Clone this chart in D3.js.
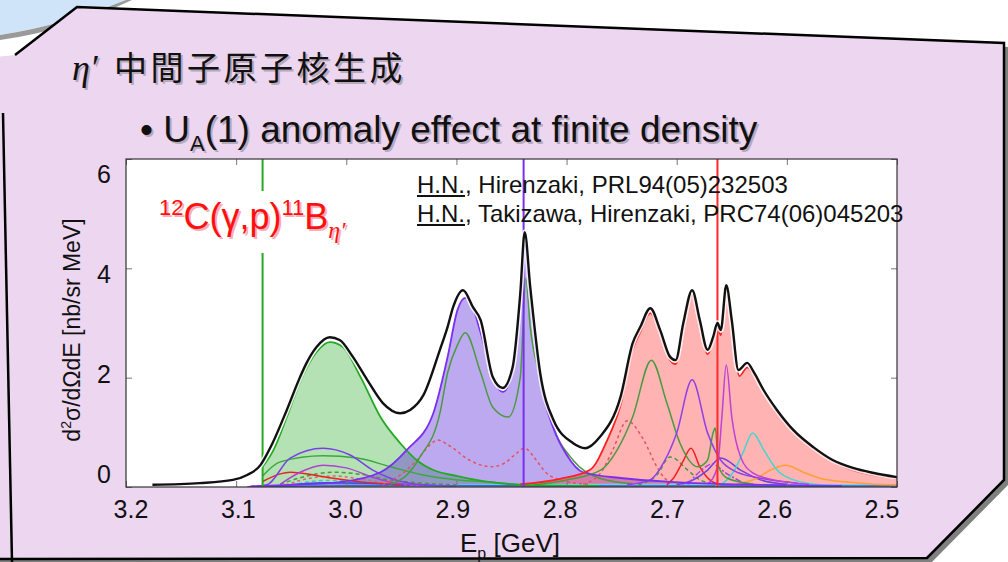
<!DOCTYPE html>
<html>
<head>
<meta charset="utf-8">
<script src="https://cdn.jsdelivr.net/npm/d3@7"></script>
<style>
body { margin: 0; background: #fff; }
svg { display: block; }
text { font-family: "Liberation Sans", Arial, sans-serif; }
</style>
</head>
<body>
<svg width="1008" height="562"></svg>
<script>
// ---- data (E_p in GeV, cross section in nb/sr MeV) ----
const xTicks = [3.2, 3.1, 3.0, 2.9, 2.8, 2.7, 2.6, 2.5];
const yTicks = [0, 2, 4, 6];
const thresholds = [3.076, 2.839, 2.663]; // green, purple, red lines

const totalCurve = [[3.176,0.04],[3.133,0.07],[3.103,0.13],[3.090,0.22],[3.078,0.40],[3.074,0.53],[3.067,0.80],[3.054,1.41],[3.042,2.01],[3.036,2.27],[3.027,2.56],[3.015,2.74],[3.006,2.69],[2.994,2.38],[2.981,1.96],[2.967,1.54],[2.951,1.35],[2.942,1.41],[2.930,1.68],[2.915,2.51],[2.908,2.93],[2.903,3.29],[2.894,3.60],[2.885,3.29],[2.878,3.05],[2.867,2.01],[2.858,1.81],[2.849,2.19],[2.842,3.55],[2.838,4.66],[2.833,3.66],[2.824,2.09],[2.812,1.23],[2.794,0.80],[2.783,0.71],[2.770,0.91],[2.751,1.65],[2.740,2.63],[2.733,2.93],[2.724,3.27],[2.715,2.87],[2.706,2.38],[2.701,2.32],[2.694,3.00],[2.686,3.60],[2.679,3.05],[2.672,2.51],[2.667,2.74],[2.663,3.00],[2.660,2.87],[2.655,3.69],[2.650,3.05],[2.644,2.14],[2.636,2.27],[2.630,2.10],[2.621,1.77],[2.609,1.41],[2.594,1.04],[2.576,0.73],[2.558,0.49],[2.540,0.35],[2.522,0.26],[2.500,0.18]];

const greenFill = [[3.0765,0],[3.076,0.37],[3.066,0.68],[3.054,1.28],[3.042,1.92],[3.027,2.47],[3.015,2.65],[3.003,2.56],[2.987,2.01],[2.969,1.28],[2.951,0.80],[2.936,0.49],[2.921,0.31],[2.899,0.20],[2.869,0.09],[2.842,0.04],[2.770,0.02]];

const purpleFill = [[3.087,0.01],[3.051,0.04],[3.006,0.09],[2.969,0.27],[2.945,0.68],[2.921,1.35],[2.908,2.38],[2.899,3.24],[2.892,3.46],[2.886,3.33],[2.878,2.82],[2.867,2.01],[2.858,1.74],[2.849,2.10],[2.842,3.42],[2.838,4.43],[2.833,3.42],[2.824,1.96],[2.812,1.08],[2.800,0.59],[2.785,0.27],[2.749,0.16],[2.703,0.09],[2.624,0.04],[2.55,0.02]];

const redFill = [[2.842,0.05],[2.806,0.15],[2.779,0.31],[2.763,0.86],[2.751,1.50],[2.740,2.51],[2.733,2.84],[2.724,3.18],[2.715,2.80],[2.706,2.32],[2.701,2.25],[2.694,2.93],[2.686,3.51],[2.679,2.96],[2.672,2.43],[2.667,2.67],[2.663,2.91],[2.660,2.78],[2.655,3.60],[2.650,2.96],[2.643,2.03],[2.636,2.19],[2.630,2.05],[2.621,1.74],[2.609,1.37],[2.594,1.01],[2.576,0.70],[2.558,0.46],[2.540,0.31],[2.522,0.22],[2.500,0.15]];

// component curves
const purpleA = [[3.090,0.00],[3.072,0.04],[3.051,0.53],[3.021,0.71],[2.997,0.59],[2.976,0.31],[2.960,0.16],[2.930,0.04],[2.90,0.02]];
const greenA = [[3.076,0.20],[3.060,0.46],[3.021,0.57],[2.990,0.53],[2.960,0.37],[2.930,0.22],[2.899,0.13],[2.869,0.09],[2.840,0.04]];
const magentaA = [[3.060,0.05],[3.042,0.27],[3.021,0.40],[3.000,0.35],[2.976,0.18],[2.960,0.09],[2.930,0.03]];
const redA = [[3.076,0.10],[3.060,0.24],[3.051,0.27],[3.030,0.22],[3.012,0.16],[2.980,0.08],[2.950,0.04]];
const greenDashA = [[3.060,0.05],[3.040,0.18],[3.012,0.27],[2.990,0.24],[2.960,0.13],[2.930,0.07],[2.900,0.04]];
const redDashA = [[3.055,0.04],[3.030,0.17],[3.010,0.20],[2.985,0.14],[2.960,0.06],[2.930,0.03]];
const cyanA = [[3.050,0.03],[3.020,0.12],[2.990,0.10],[2.960,0.04]];
const blueA = [[3.060,0.02],[3.020,0.08],[2.980,0.07],[2.940,0.03]];
const greenB = [[2.960,0.05],[2.945,0.22],[2.933,0.55],[2.915,1.35],[2.908,2.09],[2.899,2.60],[2.892,2.82],[2.878,2.09],[2.867,1.46],[2.853,1.28],[2.842,2.01],[2.837,3.82],[2.833,2.93],[2.824,2.01],[2.812,1.10],[2.794,0.49],[2.770,0.16],[2.740,0.06]];
const redDashB = [[2.967,0.04],[2.951,0.22],[2.936,0.49],[2.924,0.77],[2.917,0.86],[2.906,0.75],[2.888,0.49],[2.869,0.37],[2.856,0.44],[2.847,0.59],[2.838,0.71],[2.829,0.53],[2.819,0.27],[2.806,0.13],[2.780,0.05]];
const greenC = [[2.830,0.04],[2.800,0.13],[2.769,0.31],[2.754,0.68],[2.740,1.28],[2.723,2.32],[2.709,1.54],[2.697,0.80],[2.681,0.37],[2.672,0.49],[2.667,0.99],[2.665,1.08],[2.662,0.37],[2.654,0.16],[2.630,0.05]];
const purpleC = [[2.745,0.04],[2.724,0.13],[2.712,0.44],[2.700,0.99],[2.686,1.96],[2.672,0.99],[2.660,0.49],[2.649,0.31],[2.624,0.16],[2.590,0.07]];
const magentaC = [[2.672,0.05],[2.663,0.37],[2.659,1.28],[2.655,2.23],[2.650,1.28],[2.642,0.55],[2.631,0.26],[2.612,0.13],[2.580,0.05]];
const redC = [[2.709,0.04],[2.703,0.16],[2.695,0.44],[2.687,0.71],[2.679,0.37],[2.670,0.13],[2.660,0.04]];
const redDashC = [[2.785,0.05],[2.769,0.26],[2.758,0.68],[2.745,1.21],[2.730,0.86],[2.718,0.37],[2.709,0.13],[2.690,0.05]];
const greenDashC = [[2.735,0.04],[2.718,0.22],[2.706,0.55],[2.690,0.31],[2.679,0.13],[2.660,0.04]];
const purpleBroadC = [[2.700,0.04],[2.685,0.13],[2.672,0.31],[2.660,0.53],[2.642,0.31],[2.624,0.13],[2.600,0.05]];
const purpleDashC = [[2.690,0.05],[2.678,0.30],[2.668,0.42],[2.655,0.25],[2.640,0.08]];
const cyanC = [[2.665,0.02],[2.658,0.07],[2.649,0.26],[2.640,0.62],[2.631,0.99],[2.621,0.68],[2.609,0.31],[2.594,0.13],[2.570,0.04]];
const orangeC = [[2.645,0.05],[2.627,0.16],[2.615,0.31],[2.601,0.40],[2.585,0.27],[2.570,0.16],[2.545,0.09],[2.520,0.05],[2.500,0.04]];
const baseCyan = [[3.070,0.01],[2.900,0.04],[2.700,0.05],[2.500,0.03]];
const baseBlue = [[3.070,0.01],[2.950,0.03],[2.750,0.02],[2.500,0.02]];

// styles for the component lines (kept apart from the values)
const components = [
  { d: baseCyan, c: "#5fd8e0", dash: null },
  { d: baseBlue, c: "#4060e0", dash: null },
  { d: cyanA, c: "#40c8d8", dash: "4,3" },
  { d: blueA, c: "#3050e0", dash: null },
  { d: redDashA, c: "#e06080", dash: "3,3" },
  { d: greenDashA, c: "#4a9a3a", dash: "4,3" },
  { d: redA, c: "#ee2020", dash: null },
  { d: magentaA, c: "#b040d0", dash: null },
  { d: greenA, c: "#3aa83a", dash: null },
  { d: purpleA, c: "#7a40e8", dash: null },
  { d: redDashB, c: "#e85060", dash: "3,3" },
  { d: greenB, c: "#4a9a40", dash: null },
  { d: redDashC, c: "#e85060", dash: "3,3" },
  { d: greenDashC, c: "#4a9a3a", dash: "4,3" },
  { d: redC, c: "#ee2020", dash: null },
  { d: purpleBroadC, c: "#7040e0", dash: null },
  { d: purpleDashC, c: "#a040e0", dash: "6,2,2,2" },
  { d: orangeC, c: "#ffa030", dash: null },
  { d: cyanC, c: "#40d8d0", dash: null },
  { d: greenC, c: "#4a9a40", dash: null },
  { d: purpleC, c: "#9040e8", dash: null },
  { d: magentaC, c: "#c040d8", dash: null }
];

const svg = d3.select("svg");

// ---- slide background ----
svg.append("path")
  .attr("d", "M0,0 L126,0 Q60,26 0,35 Z")
  .attr("fill", "#cfe4f8");
svg.append("path")
  .attr("d", "M0,35 Q60,26 126,0 L132,0 Q66,31 0,40 Z")
  .attr("fill", "#9a9a9a");

const slide = "M15,55 L77,7 L1004,43 L1004,480 L927,558 L-5,560 L-5,57 Z";
svg.append("path").attr("d", slide).attr("fill", "#808080")
  .attr("transform", "translate(5,4)");
svg.append("path").attr("d", slide).attr("fill", "#edd6f0");
svg.append("path")
  .attr("d", "M15,55 L77,7 L1004,43 L1004,480 L927,558 L-5,559")
  .attr("fill", "none").attr("stroke", "#000").attr("stroke-width", 2.5);
svg.append("path")
  .attr("d", "M3,113 Q7,330 12,562")
  .attr("fill", "none").attr("stroke", "#000").attr("stroke-width", 2.5);

// text with the slide's soft drop shadow
function shadowed(build) {
  build(svg.append("text").attr("transform", "translate(2,2)"), true);
  build(svg.append("text"), false);
}

shadowed((t, s) => {
  t.attr("x", 72).attr("y", 80).attr("fill", s ? "#b8a8bc" : "#111");
  t.append("tspan").attr("font-family", "'Liberation Serif', serif")
    .attr("font-style", "italic").attr("font-size", 36).text("η′");
  t.append("tspan").attr("x", 114).attr("font-family", "'Noto Sans CJK JP', sans-serif")
    .attr("font-size", 33).attr("letter-spacing", 3.5).text("中間子原子核生成");
});

shadowed((t, s) => {
  t.attr("x", 140).attr("y", 142).attr("font-size", 37).attr("fill", s ? "#b8a8bc" : "#111");
  t.append("tspan").text("• U");
  t.append("tspan").attr("font-size", 22).attr("dy", 9).text("A");
  t.append("tspan").attr("dy", -9).text("(1) anomaly effect at finite density");
});

// ---- chart ----
const x = d3.scaleLinear().domain([3.2, 2.5]).range([126, 897]);
const y = d3.scaleLinear().domain([0, 6]).range([487, 159]);
// tick labels were placed on the slide slightly off the tick marks
const xLab = d3.scaleLinear().domain([3.2, 2.5]).range([131, 882]);
const yLab = d3.scaleLinear().domain([0, 6]).range([483, 183]);

svg.append("rect")
  .attr("x", x(3.2)).attr("y", y(6))
  .attr("width", x(2.5) - x(3.2)).attr("height", y(0) - y(6))
  .attr("fill", "#fff");

const plot = svg.append("g");
plot.append("clipPath").attr("id", "clip").append("rect")
  .attr("x", x(3.2)).attr("y", y(6))
  .attr("width", x(2.5) - x(3.2)).attr("height", y(0) - y(6));
const inner = plot.append("g").attr("clip-path", "url(#clip)");

const line = d3.line().x(d => x(d[0])).y(d => y(d[1])).curve(d3.curveMonotoneX);
const area = d3.area().x(d => x(d[0])).y0(y(0)).y1(d => y(d[1])).curve(d3.curveMonotoneX);

inner.append("path").attr("d", area(greenFill)).attr("fill", "#22aa22").attr("fill-opacity", 0.34);
inner.append("path").attr("d", area(purpleFill)).attr("fill", "#5a28d8").attr("fill-opacity", 0.4);
inner.append("path").attr("d", area(redFill)).attr("fill", "#ff2020").attr("fill-opacity", 0.34);

components.forEach(k => {
  inner.append("path").attr("d", line(k.d))
    .attr("fill", "none").attr("stroke", k.c).attr("stroke-width", 1.5)
    .attr("stroke-dasharray", k.dash);
});

inner.append("path").attr("d", line(greenFill.slice(1))).attr("fill", "none")
  .attr("stroke", "#22aa22").attr("stroke-width", 1.8);
inner.append("path").attr("d", line(purpleFill)).attr("fill", "none")
  .attr("stroke", "#7a2ef0").attr("stroke-width", 1.8);
inner.append("path").attr("d", line(redFill)).attr("fill", "none")
  .attr("stroke", "#ff2020").attr("stroke-width", 1.8);

const thrColors = ["#22aa22", "#7a2ef0", "#ff2a2a"];
inner.selectAll(".thr").data(thresholds).enter().append("line")
  .attr("x1", d => x(d)).attr("x2", d => x(d))
  .attr("y1", y(6)).attr("y2", y(0))
  .attr("stroke", (d, i) => thrColors[i]).attr("stroke-width", 2);

inner.append("path").attr("d", line(totalCurve)).attr("fill", "none")
  .attr("stroke", "#fff").attr("stroke-width", 5.5).attr("stroke-opacity", 0.85);
inner.append("path").attr("d", line(totalCurve)).attr("fill", "none")
  .attr("stroke", "#111").attr("stroke-width", 2.4);

// axes: inward ticks on all four sides, no labels
const tickStyle = g => {
  g.select(".domain").remove();
  g.selectAll("line").attr("stroke", "#777");
};
plot.append("g").attr("transform", `translate(0,${y(0)})`)
  .call(d3.axisBottom(x).tickValues(xTicks).tickSize(-6).tickFormat("")).call(tickStyle);
plot.append("g").attr("transform", `translate(0,${y(6)})`)
  .call(d3.axisTop(x).tickValues(xTicks).tickSize(-6).tickFormat("")).call(tickStyle);
plot.append("g").attr("transform", `translate(${x(3.2)},0)`)
  .call(d3.axisLeft(y).tickValues(yTicks).tickSize(-6).tickFormat("")).call(tickStyle);
plot.append("g").attr("transform", `translate(${x(2.5)},0)`)
  .call(d3.axisRight(y).tickValues(yTicks).tickSize(-6).tickFormat("")).call(tickStyle);
plot.append("rect")
  .attr("x", x(3.2)).attr("y", y(6))
  .attr("width", x(2.5) - x(3.2)).attr("height", y(0) - y(6))
  .attr("fill", "none").attr("stroke", "#333").attr("stroke-width", 1.2);

// tick labels
svg.selectAll(".xl").data(xTicks).enter().append("text")
  .attr("x", d => xLab(d)).attr("y", 518).attr("text-anchor", "middle")
  .attr("font-size", 25).attr("fill", "#111").text(d => d.toFixed(1));
svg.selectAll(".yl").data(yTicks).enter().append("text")
  .attr("x", 104).attr("y", d => yLab(d)).attr("text-anchor", "middle")
  .attr("font-size", 25).attr("fill", "#111").text(d => d);

// axis titles
const yt = svg.append("text").attr("transform", "translate(80,330) rotate(-90)")
  .attr("text-anchor", "middle").attr("font-size", 23).attr("fill", "#111");
yt.append("tspan").text("d");
yt.append("tspan").attr("font-size", 14).attr("dy", -9).text("2");
yt.append("tspan").attr("dy", 9).text("σ/dΩdE [nb/sr MeV]");

const xt = svg.append("text").attr("x", 460).attr("y", 552)
  .attr("font-size", 26).attr("fill", "#111");
xt.append("tspan").text("E");
xt.append("tspan").attr("font-size", 16).attr("dy", 7).text("p");
xt.append("tspan").attr("dy", -7).text(" [GeV]");

// reaction label on a white patch
svg.append("rect").attr("x", 152).attr("y", 191).attr("width", 214).attr("height", 62).attr("fill", "#fff");
[true, false].forEach(s => {
  const t = svg.append("text").attr("x", 159).attr("y", 229).attr("font-size", 36)
    .attr("fill", s ? "#f4b0b8" : "#ff1010")
    .attr("transform", s ? "translate(2,2)" : null);
  t.append("tspan").attr("font-size", 22).attr("dy", -14).text("12");
  t.append("tspan").attr("dy", 14).text("C(γ,p)");
  t.append("tspan").attr("font-size", 22).attr("dy", -14).text("11");
  t.append("tspan").attr("dy", 14).text("B");
  t.append("tspan").attr("font-family", "'Liberation Serif', serif").attr("font-style", "italic")
    .attr("font-size", 24).attr("dy", 9).text("η′");
});

// references, "H.N." underlined
const refs = [["H.N.", ", Hirenzaki, PRL94(05)232503"], ["H.N.", ", Takizawa, Hirenzaki, PRC74(06)045203"]];
refs.forEach((r, i) => {
  const yy = 193 + i * 29;
  const a = svg.append("text").attr("x", 417).attr("y", yy).attr("font-size", 24).attr("fill", "#111").text(r[0]);
  const w = a.node().getComputedTextLength();
  svg.append("line").attr("x1", 417).attr("x2", 417 + w).attr("y1", yy + 3).attr("y2", yy + 3)
    .attr("stroke", "#111").attr("stroke-width", 1.8);
  svg.append("text").attr("x", 417 + w).attr("y", yy).attr("font-size", 24).attr("fill", "#111").text(r[1]);
});
</script>
</body>
</html>
